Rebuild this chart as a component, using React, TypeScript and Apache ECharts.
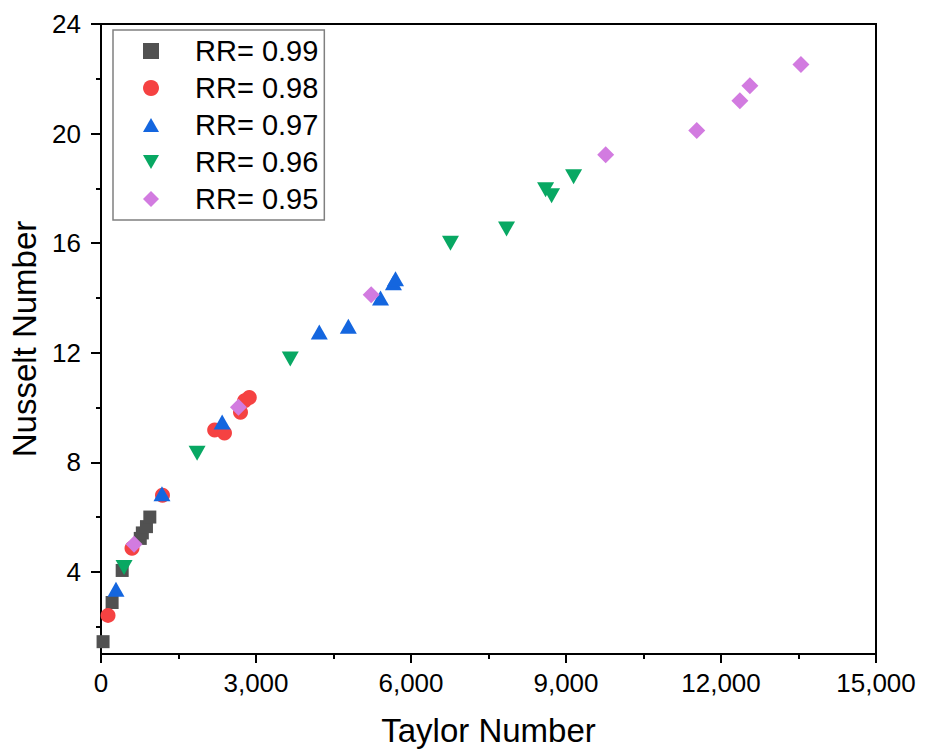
import React, { useEffect, useRef } from "react";
import * as echarts from "echarts";

const seriesNames = ["RR= 0.99", "RR= 0.98", "RR= 0.97", "RR= 0.96", "RR= 0.95"];

const rr099X = [40, 215, 410, 760, 800, 880, 945];
const rr099Y = [1.45, 2.88, 4.05, 5.22, 5.42, 5.65, 6.0];

const rr098X = [136, 600, 1190, 2200, 2390, 2700, 2780, 2870];
const rr098Y = [2.41, 4.86, 6.8, 9.18, 9.07, 9.83, 10.25, 10.36];

const rr097X = [290, 1180, 2345, 4225, 4787, 5410, 5660, 5700];
const rr097Y = [3.36, 6.85, 9.47, 12.76, 12.97, 14.0, 14.55, 14.7];

const rr096X = [446, 1860, 3663, 6764, 7849, 8605, 8721, 9147];
const rr096Y = [4.16, 8.33, 11.77, 16.0, 16.52, 17.95, 17.73, 18.42];

const rr095X = [640, 2660, 5230, 9768, 11531, 12365, 12559, 13547];
const rr095Y = [5.01, 10.01, 14.12, 19.23, 20.11, 21.2, 21.75, 22.52];

const xTicks = [0, 3000, 6000, 9000, 12000, 15000];
const yMajorTicks = [4, 8, 12, 16, 20, 24];
const yMinorTicks = [2, 6, 10, 14, 18, 22];

const colors = ["#515151", "#F54242", "#1466DF", "#08A863", "#D27BE0"];

const zip = (xs: number[], ys: number[]) => xs.map((x, i) => [x, ys[i]]);

export default function App() {
  const ref = useRef<HTMLDivElement>(null);
  useEffect(() => {
    if (!ref.current) return;
    const chart = echarts.init(ref.current, undefined, { renderer: "svg" });
    const font = "Liberation Sans, Arial, sans-serif";
    const fmt = (v: number) => v.toLocaleString("en-US");
    const mk = (
      name: string,
      data: number[][],
      symbol: string,
      size: number | number[],
      color: string,
      rotate = 0
    ) => ({
      name,
      type: "scatter",
      data,
      symbol,
      symbolSize: size,
      symbolRotate: rotate,
      itemStyle: { color, opacity: 1 },
      emphasis: { disabled: true },
    });
    chart.setOption({
      animation: false,
      backgroundColor: "#fff",
      grid: {
        left: 101,
        right: 50,
        top: 24,
        bottom: 98,
        show: true,
        borderColor: "#000",
        borderWidth: 2,
        backgroundColor: "transparent",
      },
      legend: {
        orient: "vertical",
        left: 113,
        top: 30,
        padding: [6, 6, 6, 30],
        itemWidth: 16,
        itemHeight: 16,
        itemGap: 7,
        borderColor: "#808080",
        borderWidth: 1.5,
        textStyle: {
          fontFamily: font,
          fontSize: 29,
          color: "#000",
          lineHeight: 30,
          padding: [0, 0, 0, 31],
        },
        data: [
          { name: seriesNames[0], icon: "path://M0,0 L13,0 L13,13 L0,13 Z" },
          { name: seriesNames[1], icon: "circle" },
          { name: seriesNames[2], icon: "path://M8,0 L16,14 L0,14 Z" },
          { name: seriesNames[3], icon: "path://M0,0 L16,0 L8,14 Z" },
          { name: seriesNames[4], icon: "diamond" },
        ],
      },
      xAxis: {
        type: "value",
        min: 0,
        max: 15000,
        interval: 3000,
        name: "Taylor Number",
        nameLocation: "middle",
        nameGap: 60,
        nameTextStyle: { fontFamily: font, fontSize: 33, color: "#000" },
        axisLine: { show: true, lineStyle: { color: "#000", width: 2 } },
        axisTick: { show: true, length: 9, lineStyle: { color: "#000", width: 2 } },
        minorTick: { show: true, splitNumber: 2, length: 5, lineStyle: { color: "#000", width: 2 } },
        splitLine: { show: false },
        axisLabel: {
          fontFamily: font,
          fontSize: 26,
          color: "#000",
          margin: 16,
          formatter: (v: number) => (xTicks.includes(v) ? fmt(v) : ""),
        },
      },
      yAxis: [
        {
          type: "value",
          min: 1,
          max: 24,
          name: "Nusselt Number",
          nameLocation: "middle",
          nameGap: 56,
          nameTextStyle: { fontFamily: font, fontSize: 33, color: "#000" },
          axisLine: { show: true, lineStyle: { color: "#000", width: 2 } },
          axisTick: {
            show: true,
            length: 10,
            customValues: yMajorTicks,
            lineStyle: { color: "#000", width: 2 },
          },
          splitLine: { show: false },
          axisLabel: {
            fontFamily: font,
            fontSize: 26,
            color: "#000",
            margin: 20,
            customValues: yMajorTicks,
          },
        },
        {
          type: "value",
          min: 1,
          max: 24,
          position: "left",
          axisLine: { show: false },
          axisTick: {
            show: true,
            length: 5,
            customValues: yMinorTicks,
            lineStyle: { color: "#000", width: 2 },
          },
          splitLine: { show: false },
          axisLabel: { show: false },
        },
      ],
      series: [
        mk(seriesNames[0], zip(rr099X, rr099Y), "rect", 13, colors[0]),
        mk(seriesNames[1], zip(rr098X, rr098Y), "circle", 15, colors[1]),
        mk(seriesNames[2], zip(rr097X, rr097Y), "triangle", [17, 15], colors[2]),
        mk(seriesNames[3], zip(rr096X, rr096Y), "triangle", [17, 15], colors[3], 180),
        mk(seriesNames[4], zip(rr095X, rr095Y), "diamond", 17, colors[4]),
      ],
    });
    return () => chart.dispose();
  }, []);
  return (
    <div
      ref={ref}
      style={{ width: 926, height: 752, position: "fixed", left: 0, top: 0 }}
    />
  );
}
